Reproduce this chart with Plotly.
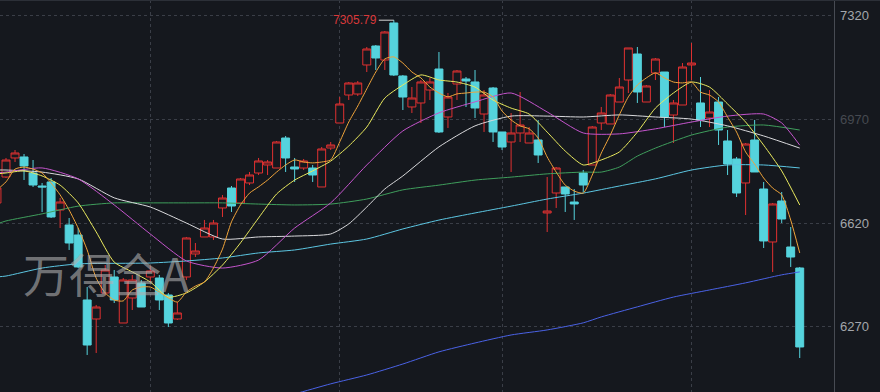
import plotly.graph_objects as go

# ---- data ----
days = list(range(-1, 89))
opens = [6688.7, 6776.4, 6840.6, 6844.0, 6789.9, 6746.0, 6759.6, 6665.0, 6614.4, 6580.6,
         6361.2, 6297.0, 6384.8, 6438.8, 6283.5, 6367.9, 6418.6, 6438.8, 6435.4, 6378.0,
         6297.0, 6438.8, 6516.5, 6573.9, 6573.9, 6671.8, 6739.3, 6688.7, 6756.2, 6789.9,
         6817.0, 6806.8, 6908.1, 6810.2, 6806.8, 6806.8, 6742.7, 6874.3, 6958.7, 7053.3,
         7056.6, 7154.6, 7218.7, 7171.4, 7296.4, 7117.4, 7012.8, 7026.3, 7070.1, 7141.0,
         6979.0, 7090.4, 7107.3, 7097.2, 6989.1, 7076.9, 6928.4, 6894.6, 6925.0, 6891.2,
         6901.3, 6654.9, 6722.4, 6742.7, 6692.0, 6789.9, 6817.0, 6958.7, 6955.4, 7029.6,
         7103.9, 7191.7, 7029.6, 7127.6, 7130.9, 6985.7, 7019.5, 7154.6, 7026.3, 6975.6,
         7029.6, 6898.0, 6837.2, 6756.2, 6901.3, 6735.9, 6557.0, 6695.4, 6540.1, 6469.2]
highs = [6749.4, 6840.6, 6867.6, 6854.1, 6833.8, 6756.2, 6773.1, 6705.5, 6638.0, 6604.2,
         6405.1, 6344.3, 6479.3, 6462.4, 6435.4, 6445.6, 6428.7, 6476.0, 6445.6, 6384.8,
         6354.4, 6573.9, 6553.6, 6631.3, 6631.3, 6715.6, 6746.0, 6773.1, 6793.3, 6840.6,
         6833.8, 6898.0, 6914.8, 6840.6, 6837.2, 6817.0, 6877.7, 6894.6, 7046.5, 7097.2,
         7100.5, 7215.3, 7222.1, 7269.3, 7305.79, 7120.8, 7080.3, 7103.9, 7110.7, 7198.4,
         7060.0, 7137.7, 7114.0, 7137.7, 7070.1, 7080.3, 6928.4, 6992.5, 7063.4, 6945.2,
         6968.9, 6776.4, 6810.2, 6742.7, 6735.9, 6800.1, 6948.6, 7012.8, 7056.6, 7110.7,
         7212.0, 7215.3, 7087.0, 7178.2, 7130.9, 7036.4, 7161.3, 7228.8, 7114.0, 7070.1,
         7046.5, 6935.1, 6844.0, 6891.2, 6968.9, 6759.6, 6688.7, 6725.8, 6607.6, 6472.6]
lows = [6678.5, 6773.1, 6827.1, 6766.3, 6742.7, 6658.3, 6638.0, 6604.2, 6530.0, 6469.0,
        6175.5, 6182.2, 6378.0, 6351.0, 6283.5, 6327.4, 6337.5, 6418.6, 6327.4, 6270.0,
        6293.6, 6428.7, 6506.3, 6573.9, 6563.7, 6641.4, 6658.3, 6685.3, 6749.4, 6783.2,
        6783.2, 6806.8, 6793.3, 6759.6, 6800.1, 6759.6, 6742.7, 6867.6, 6958.7, 7036.4,
        7049.9, 7130.9, 7137.7, 7137.7, 7117.4, 7002.6, 6992.5, 6958.7, 7036.4, 6925.0,
        6941.9, 7036.4, 7012.8, 6975.6, 6928.4, 6894.6, 6867.6, 6793.3, 6894.6, 6891.2,
        6823.7, 6590.7, 6671.8, 6658.3, 6631.3, 6725.8, 6817.0, 6935.1, 6955.4, 7029.6,
        7060.0, 7026.3, 7029.6, 7103.9, 6945.2, 6891.2, 7019.5, 7103.9, 6945.2, 6945.2,
        6884.5, 6783.2, 6708.9, 6648.1, 6793.3, 6536.7, 6455.7, 6621.1, 6472.6, 6165.3]
closes = [6739.3, 6833.8, 6857.5, 6813.6, 6749.4, 6742.7, 6641.4, 6692.0, 6553.6, 6472.6,
          6209.2, 6337.5, 6462.4, 6361.2, 6428.7, 6428.7, 6337.5, 6459.1, 6361.2, 6283.5,
          6317.3, 6570.5, 6526.6, 6604.2, 6621.1, 6705.5, 6678.5, 6769.7, 6783.2, 6830.5,
          6827.1, 6894.6, 6840.6, 6803.4, 6830.5, 6783.2, 6871.0, 6884.5, 7022.9, 7093.8,
          7093.8, 7208.6, 7178.2, 7266.0, 7120.8, 7046.5, 7043.1, 7097.2, 7097.2, 6928.4,
          7046.5, 7134.3, 7100.5, 7009.4, 7053.3, 6928.4, 6877.7, 6925.0, 6952.0, 6925.0,
          6850.7, 6661.6, 6806.8, 6719.0, 6685.3, 6749.4, 6945.2, 6992.5, 7053.3, 7080.3,
          7212.0, 7063.4, 7083.7, 7174.8, 6979.0, 7026.3, 7147.8, 7161.3, 6968.9, 6995.9,
          6935.1, 6820.3, 6722.4, 6887.8, 6793.3, 6560.4, 6685.3, 6634.6, 6506.3, 6202.5]

ma5_x = list(range(-1, 89))
ma5 = [6733, 6760, 6803, 6810, 6803, 6790, 6756, 6716, 6665, 6604,
       6530, 6435, 6385, 6361, 6358, 6395, 6405, 6405, 6388, 6368,
       6354, 6388, 6408, 6422, 6469, 6533, 6625, 6682, 6722, 6743,
       6766, 6793, 6817, 6834, 6827, 6824, 6827, 6834, 6895, 6962,
       7016, 7074, 7131, 7175, 7182, 7161, 7131, 7111, 7080, 7060,
       7047, 7057, 7060, 7063, 7063, 7047, 6999, 6969, 6949, 6939,
       6908, 6844, 6793, 6749, 6729, 6722, 6783, 6857, 6918, 6986,
       7047, 7087, 7111, 7128, 7111, 7097, 7094, 7097, 7063, 7053,
       7030, 6979, 6928, 6861, 6820, 6773, 6739, 6716, 6631, 6520]

ma10_x = [-1, 0, 2, 4, 6, 8, 10, 12, 14, 16, 18, 20, 22, 24, 26, 28, 30, 32, 34, 36,
          38, 40, 42, 44, 46, 48, 50, 52, 54, 56, 58, 60, 62, 64, 66, 68, 70, 72, 74, 76,
          78, 80, 82, 84, 86, 88]
ma10 = [6787, 6790, 6797, 6780, 6749, 6689, 6591, 6489, 6456, 6422, 6371, 6385, 6422,
        6479, 6554, 6638, 6719, 6766, 6797, 6830, 6881, 6945, 7043, 7087, 7121, 7104,
        7097, 7080, 7036, 7009, 6989, 6928, 6864, 6817, 6834, 6861, 6928, 7009, 7060,
        7097, 7080, 7023, 6962, 6884, 6797, 6682]

ma20_x = [-1, 0, 4, 8, 12, 16, 20, 24, 28, 32, 36, 40, 44, 48, 52, 56, 60, 64, 68, 72,
          76, 80, 84, 86, 88]
ma20 = [6790, 6793, 6807, 6770, 6682, 6584, 6493, 6469, 6496, 6604, 6689, 6817, 6932,
        6993, 7030, 7060, 6996, 6925, 6922, 6939, 6962, 6982, 6989, 6959, 6884]

ma30_x = [-1, 0, 4, 8, 12, 16, 20, 24, 28, 32, 36, 38, 40, 42, 44, 48, 52, 56, 60, 64,
          68, 72, 76, 80, 84, 88]
ma30 = [6800, 6800, 6793, 6770, 6706, 6675, 6621, 6567, 6574, 6577, 6584, 6618, 6675,
        6736, 6780, 6878, 6949, 6982, 6982, 6979, 6986, 6979, 6972, 6949, 6915, 6874]

ma60_x = [-1, 0, 4, 8, 12, 16, 20, 24, 28, 32, 36, 40, 44, 48, 52, 56, 60, 64, 66, 68,
          70, 72, 76, 80, 84, 88]
ma60 = [6618, 6628, 6652, 6678, 6689, 6689, 6689, 6689, 6685, 6682, 6685, 6702, 6733,
        6749, 6766, 6776, 6787, 6793, 6793, 6810, 6847, 6874, 6918, 6945, 6952, 6935]

ma120_x = [-1, 0, 4, 8, 16, 20, 24, 28, 32, 36, 40, 44, 48, 52, 56, 60, 64, 68, 72, 76,
           80, 84, 88]
ma120 = [6439, 6442, 6469, 6483, 6486, 6493, 6503, 6520, 6530, 6550, 6567, 6601, 6631,
         6655, 6678, 6702, 6722, 6746, 6770, 6800, 6817, 6817, 6807]

ma250_x = [28, 32, 36, 40, 44, 48, 52, 56, 60, 64, 66, 70, 74, 78, 82, 86, 88]
ma250 = [6013, 6044, 6078, 6108, 6145, 6186, 6216, 6243, 6260, 6284, 6304, 6338, 6371,
         6395, 6419, 6446, 6456]

tick_vals = [7320, 6970, 6620, 6270]
tick_text = ["7320", "6970", "6620", "6270"]
tick_colors = ["#a3a6ab", "#464a51", "#a3a6ab", "#a3a6ab"]
grid_days = [16, 37, 55, 76]
peak_day = 43
peak_label = "7305.79"
watermark = "万得全A"

BG = "#15181e"
RED = "#e03131"
CYAN = "#55d3dd"

fig = go.Figure()
fig.add_trace(go.Candlestick(
    x=days, open=opens, high=highs, low=lows, close=closes,
    increasing=dict(line=dict(color=RED, width=1), fillcolor=BG),
    decreasing=dict(line=dict(color=CYAN, width=1), fillcolor=CYAN),
    whiskerwidth=0, hoverinfo="skip", showlegend=False,
))

lines = [
    (ma250_x, ma250, "#4a62e6"),
    (ma120_x, ma120, "#5cc6e2"),
    (ma60_x, ma60, "#3f9e5c"),
    (ma30_x, ma30, "#d9d9dc"),
    (ma20_x, ma20, "#c454cc"),
    (ma10_x, ma10, "#eaea5e"),
    (ma5_x, ma5, "#f0a43a"),
]
for xs, ys, col in lines:
    fig.add_trace(go.Scatter(x=xs, y=ys, mode="lines",
                             line=dict(color=col, width=1, shape="spline", smoothing=0.6),
                             hoverinfo="skip", showlegend=False))

fig.add_annotation(x=peak_day, y=highs[peak_day + 1], text=peak_label,
                   showarrow=True, arrowhead=0, arrowwidth=1, arrowcolor="#d6d6d6",
                   ax=-15, ay=0, xanchor="right", yanchor="middle",
                   font=dict(family="Liberation Sans, Arial", size=12, color="#d8393a"))

# right-hand price labels
for v, t, c in zip(tick_vals, tick_text, tick_colors):
    fig.add_annotation(xref="paper", yref="y", x=1.0, y=v, text=t, showarrow=False,
                       xanchor="left", yanchor="middle", xshift=4,
                       font=dict(family="Liberation Sans, Arial", size=13, color=c))

fig.add_annotation(xref="paper", yref="paper", x=0.025, y=0.305, text=watermark,
                   showarrow=False, xanchor="left", yanchor="middle",
                   font=dict(family="Noto Sans CJK SC", size=46, color="rgba(175,175,175,0.62)"))

fig.add_shape(type="line", xref="paper", yref="paper", x0=0, x1=1.06, y0=1, y1=1,
              line=dict(color="#2c3038", width=2))

fig.update_layout(
    width=880, height=392,
    margin=dict(l=0, r=46, t=0, b=0),
    paper_bgcolor=BG, plot_bgcolor=BG,
    boxgap=0.12, boxgroupgap=0,
    xaxis=dict(range=[-0.665, 91.8], rangeslider=dict(visible=False),
               tickvals=grid_days, showticklabels=False, ticks="",
               showgrid=True, gridcolor="#3a3e47", griddash="dot", gridwidth=1,
               zeroline=False, showline=False, fixedrange=True),
    yaxis=dict(side="right", range=[6050.5, 7374.0],
               tickvals=tick_vals, showticklabels=False, ticks="",
               showgrid=True, gridcolor="#3a3e47", griddash="dot", gridwidth=1,
               showline=True, linecolor="#474b53", linewidth=1,
               zeroline=False, fixedrange=True),
)

fig.write_html("out.html")
